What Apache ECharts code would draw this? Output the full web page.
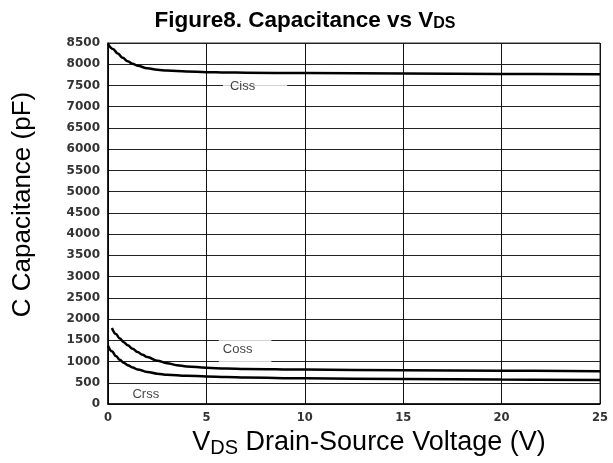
<!DOCTYPE html>
<html>
<head>
<meta charset="utf-8">
<script src="https://cdn.jsdelivr.net/npm/echarts@6/dist/echarts.min.js"></script>
<style>html,body{margin:0;padding:0;background:#fff}#c{width:613px;height:463px}</style>
</head>
<body>
<div id="c"></div>
<script>
// Data
var xTicks = [0, 5, 10, 15, 20, 25];
var ciss = [[0,8480],[0.25,8360],[0.5,8250],[0.75,8150],[1,8070],[1.25,8010],[1.5,7965],[2,7905],[2.5,7870],[3,7850],[4,7828],[5,7814],[6,7806],[7,7800],[10,7792],[15,7782],[20,7772],[25,7765]];
var coss = [[0.2,1790],[0.4,1650],[0.6,1540],[0.8,1455],[1,1385],[1.25,1300],[1.5,1225],[1.75,1160],[2,1105],[2.5,1020],[3,960],[3.5,915],[4,885],[5,852],[6,835],[7,825],[10,810],[15,795],[20,782],[25,772]];
var crss = [[0,1370],[0.2,1240],[0.4,1130],[0.6,1040],[0.8,970],[1,915],[1.25,860],[1.5,815],[2,755],[2.5,715],[3,690],[4,665],[5,650],[6,636],[7,624],[10,604],[15,588],[20,574],[25,564]];
var seriesNames = ['Ciss', 'Coss', 'Crss'];
var labelPoints = [[5.84, 7478], [5.63, 1277], [1.92, 232]];

var chart = echarts.init(document.getElementById('c'));
var lineStyle = {color: '#000', width: 2.5};
var labelFont = {fontFamily: 'Liberation Sans, Arial', fontSize: 13, color: '#111'};
chart.setOption({
  animation: false,
  backgroundColor: '#fff',
  title: {
    text: '{m|Figure8. Capacitance vs V}{s|DS}',
    left: 300, top: 4, textAlign: 'center',
    textStyle: {
      rich: {
        m: {fontFamily: 'Liberation Sans, Arial', fontWeight: 'bold', fontSize: 22.5, color: '#000'},
        s: {fontFamily: 'Liberation Sans, Arial', fontWeight: 'bold', fontSize: 16, color: '#000', verticalAlign: 'bottom'}
      }
    }
  },
  grid: {left: 108, right: 13, top: 43, bottom: 54, show: true, borderColor: '#333', borderWidth: 1, backgroundColor: 'transparent'},
  xAxis: {
    type: 'value', min: 0, max: 25, interval: 5,
    name: '{m|V}{s|DS}{m| Drain-Source Voltage (V)}',
    nameLocation: 'middle', nameGap: 24,
    nameTextStyle: {
      padding: [0, 0, 0, 30],
      rich: {
        m: {fontFamily: 'Liberation Sans, Arial', fontSize: 27, color: '#000'},
        s: {fontFamily: 'Liberation Sans, Arial', fontSize: 20, color: '#000', verticalAlign: 'bottom', padding: [10,0,0,0]}
      }
    },
    axisLine: {show: true, lineStyle: {color: '#000', width: 1.5}},
    axisTick: {show: false},
    axisLabel: {fontFamily: 'DejaVu Sans', fontWeight: 'bold', fontSize: 11.5, color: '#333', margin: 8},
    splitLine: {show: true, lineStyle: {color: '#111', width: 1}}
  },
  yAxis: {
    type: 'value', min: 0, max: 8500, interval: 500,
    name: 'C Capacitance (pF)', nameLocation: 'middle', nameGap: 72,
    nameTextStyle: {fontFamily: 'Liberation Sans, Arial', fontSize: 26, color: '#000', padding: [0, 0, 0, 38]},
    axisLine: {show: true, lineStyle: {color: '#000', width: 1.5}},
    axisTick: {show: false},
    axisLabel: {fontFamily: 'DejaVu Sans', fontWeight: 'bold', fontSize: 12, color: '#333', margin: 8, formatter: function (v) { return String(v); }},
    splitLine: {show: true, lineStyle: {color: '#222', width: 1}}
  },
  series: [
    {name: seriesNames[0], type: 'line', data: ciss, smooth: 0.4, smoothMonotone: 'x', showSymbol: false, lineStyle: lineStyle, z: 3},
    {name: seriesNames[1], type: 'line', data: coss, smooth: 0.4, smoothMonotone: 'x', showSymbol: false, lineStyle: lineStyle, z: 3},
    {name: seriesNames[2], type: 'line', data: crss, smooth: 0.4, smoothMonotone: 'x', showSymbol: false, lineStyle: lineStyle, z: 3},
    {type: 'scatter', symbolSize: 0, z: 4, silent: true,
     data: [
       {value: labelPoints[0], label: {show: true, position: 'right', distance: 0, formatter: seriesNames[0], backgroundColor: '#fff', padding: [3, 32, 3, 7]}},
       {value: labelPoints[1], label: {show: true, position: 'right', distance: 0, formatter: seriesNames[1], backgroundColor: '#fff', padding: [3, 19, 17, 4]}},
       {value: labelPoints[2], label: {show: true, position: 'inside', formatter: seriesNames[2]}}
     ],
     label: labelFont
    }
  ]
});
</script>
</body>
</html>
